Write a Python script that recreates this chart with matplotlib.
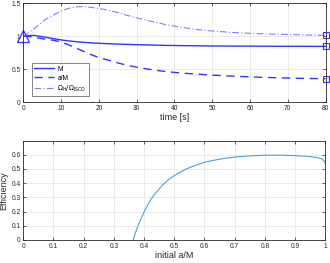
import numpy as np
import matplotlib
matplotlib.use("Agg")
import matplotlib.pyplot as plt

# Top panel data: evolution with time
t = [0, 1, 2, 3, 4.4, 6, 7.9, 10, 12, 14, 16, 18, 20.3, 23, 25, 27.4, 30, 33, 37.5, 42, 46.4, 50, 55, 60, 64, 68, 72, 76, 80]
M = [1.0, 1.008, 1.013, 1.012, 1.0, 0.985, 0.965, 0.945, 0.93, 0.918, 0.908, 0.9, 0.893, 0.886, 0.882, 0.877, 0.872, 0.868, 0.862, 0.858, 0.855, 0.853, 0.851, 0.85, 0.849, 0.848, 0.848, 0.847, 0.847]
aM = [1.0, 0.998, 0.993, 0.985, 0.97, 0.955, 0.94, 0.915, 0.87, 0.82, 0.77, 0.72, 0.67, 0.63, 0.595, 0.56, 0.53, 0.5, 0.465, 0.44, 0.423, 0.41, 0.395, 0.383, 0.375, 0.368, 0.362, 0.358, 0.355]
omega = [1.0, 1.04, 1.08, 1.12, 1.19, 1.26, 1.32, 1.385, 1.425, 1.448, 1.452, 1.44, 1.42, 1.39, 1.36, 1.32, 1.28, 1.24, 1.18, 1.135, 1.10, 1.08, 1.06, 1.045, 1.037, 1.03, 1.024, 1.019, 1.015]

# Bottom panel data: efficiency vs initial spin
a0 = [0.364, 0.372, 0.381, 0.392, 0.403, 0.414, 0.425, 0.436, 0.447, 0.463, 0.480, 0.496, 0.513, 0.535, 0.558, 0.58, 0.60, 0.635, 0.67, 0.71, 0.75, 0.80, 0.85, 0.90, 0.94, 0.97, 0.988, 0.995, 1.0]
eff = [0.0, 0.055, 0.106, 0.16, 0.211, 0.255, 0.293, 0.325, 0.352, 0.39, 0.423, 0.448, 0.47, 0.495, 0.516, 0.533, 0.547, 0.563, 0.576, 0.586, 0.592, 0.597, 0.597, 0.594, 0.589, 0.582, 0.572, 0.56, 0.54]

blue = "#3333ff"
light = "#7f7fff"
axc = "#262626"
gridc = "#e6e6e6"

plt.rcParams['font.family'] = ['Liberation Sans', 'DejaVu Sans']

fig = plt.figure(figsize=(3.3, 2.63), dpi=100)
ax1 = fig.add_axes([0.0706, 0.612, 0.916, 0.375])
ax2 = fig.add_axes([0.0706, 0.0875, 0.915, 0.378])

for ax in (ax1, ax2):
    ax.grid(True, color=gridc, linewidth=0.6)
    ax.set_axisbelow(True)
    for s in ax.spines.values():
        s.set_color(axc)
        s.set_linewidth(0.6)
    ax.tick_params(direction='in', length=2.5, width=0.5, labelsize=4.8, colors=axc, pad=2,
                   top=True, right=True)

ax1.plot(t, M, color=blue, lw=1.0, label='M')
ax1.plot(t, aM, color=blue, lw=1.0, ls=(0, (6, 4)), label='a/M')
ax1.plot(t, omega, color=light, lw=0.8, ls=(0, (6, 2, 1, 2)), label=r'$\mathrm{\Omega_H/\Omega_{ISCO}}$')
ax1.plot([t[0]], [M[0]], marker='^', ms=8, mfc='none', mec=blue, mew=0.9, clip_on=False)
for y in (M[-1], aM[-1], omega[-1]):
    ax1.plot([t[-1]], [y], marker='s', ms=4.5, mfc='none', mec=blue, mew=0.8, clip_on=False)
ax1.set_xlim(0, 80)
ax1.set_ylim(0, 1.5)
ax1.set_xticks(np.arange(0, 81, 10))
ax1.set_yticks([0, 0.5, 1, 1.5])
ax1.set_yticklabels(['0', '0.5', '1', '1.5'])
ax1.set_xlabel('time [s]', fontsize=6.5, labelpad=1, color=axc)
leg = ax1.legend(loc='lower left', bbox_to_anchor=(0.028, 0.06), fontsize=4.8, frameon=True,
                 fancybox=False, edgecolor=axc, handlelength=3.0, borderpad=0.35,
                 labelspacing=0.3, handletextpad=0.5, borderaxespad=0)
leg.get_frame().set_linewidth(0.5)

ax2.plot(a0, eff, color='#4d9fd6', lw=0.8)
ax2.set_xlim(0, 1)
ax2.set_ylim(0, 0.7)
ax2.set_xticks(np.arange(0, 1.01, 0.1))
ax2.set_xticklabels(['0', '0.1', '0.2', '0.3', '0.4', '0.5', '0.6', '0.7', '0.8', '0.9', '1'])
ax2.set_yticks(np.arange(0, 0.61, 0.1))
ax2.set_yticklabels(['0', '0.1', '0.2', '0.3', '0.4', '0.5', '0.6'])
ax2.set_xlabel('initial a/M', fontsize=6.5, labelpad=1, color=axc)
ax2.set_ylabel('Efficiency', fontsize=6.5, labelpad=2, color=axc)

fig.savefig('out.png', dpi=100)
